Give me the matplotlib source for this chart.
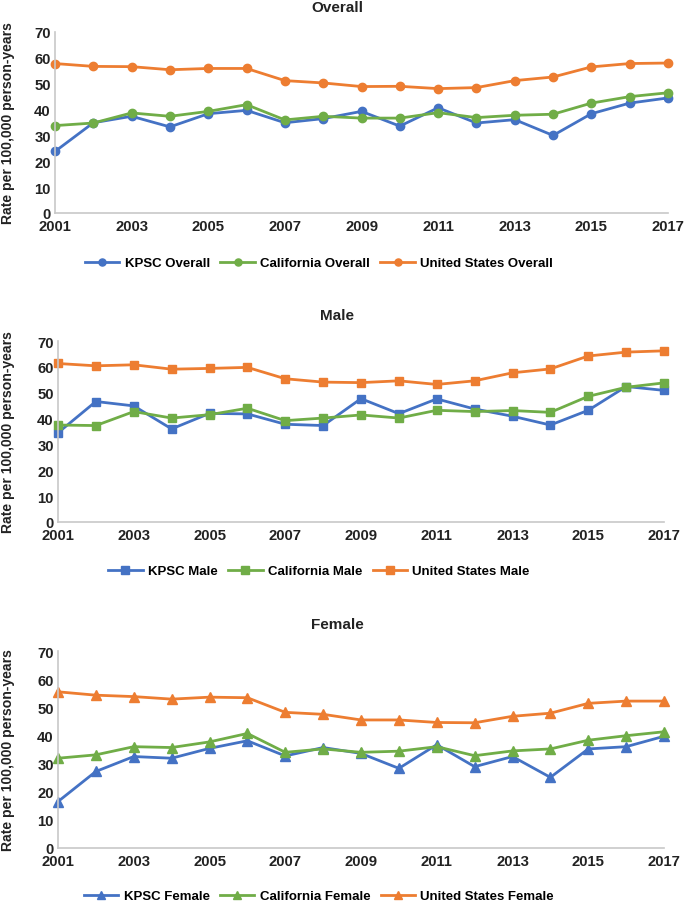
import matplotlib
matplotlib.use("Agg")
import matplotlib.pyplot as plt

plt.rcParams['font.family'] = ['Liberation Sans', 'DejaVu Sans']

years = list(range(2001, 2018))

kpsc_overall = [23.8, 34.9, 37.4, 33.3, 38.4, 39.7, 34.9, 36.5, 39.3, 33.6, 40.7, 34.8, 36.1, 30.0, 38.4, 42.5, 44.5]
ca_overall = [33.8, 34.8, 38.7, 37.4, 39.3, 41.9, 36.0, 37.4, 36.7, 36.7, 38.8, 36.9, 37.8, 38.2, 42.5, 45.0, 46.5]
us_overall = [57.8, 56.7, 56.6, 55.4, 55.9, 55.9, 51.2, 50.3, 48.9, 49.0, 48.1, 48.5, 51.2, 52.6, 56.5, 57.8, 58.0]

kpsc_male = [34.5, 46.6, 44.9, 36.0, 42.0, 41.8, 37.8, 37.3, 47.7, 41.9, 47.6, 43.7, 40.9, 37.5, 43.2, 52.4, 50.9]
ca_male = [37.5, 37.3, 42.7, 40.2, 41.5, 44.0, 39.2, 40.2, 41.4, 40.2, 43.2, 42.7, 43.1, 42.4, 48.6, 52.1, 53.8]
us_male = [61.3, 60.4, 60.8, 59.1, 59.4, 59.8, 55.4, 54.1, 53.9, 54.6, 53.2, 54.6, 57.7, 59.2, 64.2, 65.7, 66.2]

kpsc_female = [16.5, 27.2, 32.5, 31.9, 35.4, 38.1, 32.7, 35.7, 33.6, 28.3, 36.7, 28.9, 32.5, 25.1, 35.2, 36.0, 39.7]
ca_female = [31.9, 33.1, 36.0, 35.7, 37.7, 40.7, 34.0, 35.2, 34.0, 34.4, 36.0, 32.8, 34.5, 35.2, 38.3, 39.9, 41.3]
us_female = [55.5, 54.3, 53.8, 52.9, 53.6, 53.4, 48.2, 47.5, 45.5, 45.5, 44.6, 44.5, 46.8, 47.9, 51.4, 52.2, 52.2]

colors = ['#4472C4', '#70AD47', '#ED7D31']
W, H = 685, 903

fig = plt.figure(figsize=(W / 100, H / 100), dpi=100)


def px_axes(x0, x1, y_top, y_bot):
    return fig.add_axes([x0 / W, 1 - y_bot / H, (x1 - x0) / W, (y_bot - y_top) / H])


panels = [
    ("Overall", "o", 6, (kpsc_overall, ca_overall, us_overall),
     ["KPSC Overall", "California Overall", "United States Overall"],
     (55, 668, 33, 214), 8, 264),
    ("Male", "s", 6, (kpsc_male, ca_male, us_male),
     ["KPSC Male", "California Male", "United States Male"],
     (58, 664, 342, 523), 316, 572),
    ("Female", "^", 6.5, (kpsc_female, ca_female, us_female),
     ["KPSC Female", "California Female", "United States Female"],
     (58, 664, 652, 849), 625, 897),
]

for title, marker, ms, series, labels, box, title_y, leg_y in panels:
    ax = px_axes(*box)
    handles = []
    for vals, lab, c in zip(series, labels, colors):
        h, = ax.plot(years, vals, color=c, marker=marker, markersize=ms,
                     linewidth=2, label=lab, clip_on=False)
        handles.append(h)
    ax.set_xlim(2001, 2017)
    ax.set_ylim(0, 70)
    ax.set_xticks(years[::2])
    ax.set_yticks(range(0, 71, 10))
    ax.tick_params(axis='both', length=0, labelsize=10.7)
    ax.tick_params(axis='x', pad=4.5)
    ax.tick_params(axis='y', pad=3)
    for lbl in ax.get_xticklabels() + ax.get_yticklabels():
        lbl.set_fontweight('bold')
        lbl.set_color('#222222')
    for s in ['top', 'right']:
        ax.spines[s].set_visible(False)
    for s in ['left', 'bottom']:
        ax.spines[s].set_color('#C8C8C8')
        ax.spines[s].set_linewidth(1.2)
    ax.set_ylabel("Rate per 100,000 person-years", fontsize=10.1,
                  fontweight='bold', color='#222222')
    width_px = box[1] - box[0]
    ax.yaxis.set_label_coords((15 - box[0]) / width_px, 0.5)
    fig.text(337 / W, 1 - title_y / H, title, ha='center', va='center',
             fontsize=11, fontweight='bold', color='#222222')
    fig.legend(handles=handles, loc='center', bbox_to_anchor=(319 / W, 1 - leg_y / H),
               ncol=3, frameon=False, prop={'weight': 'bold', 'size': 9.5},
               handlelength=2.6, columnspacing=0.8, handletextpad=0.4,
               markerscale=0.85)

fig.savefig("out.png", dpi=100)
